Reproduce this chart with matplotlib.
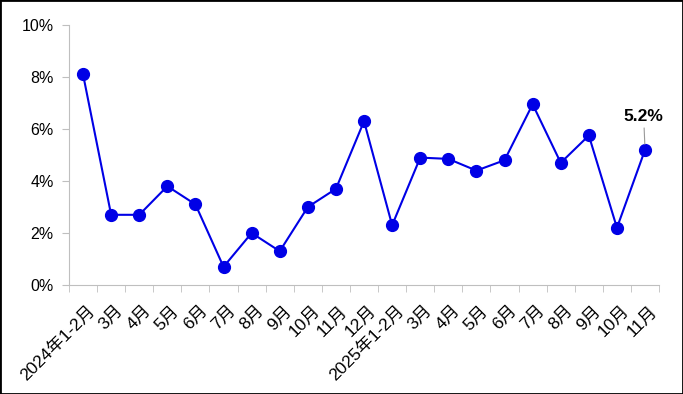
import matplotlib.pyplot as plt
from matplotlib.patches import Rectangle
from matplotlib.transforms import ScaledTranslation

plt.rcParams['font.family'] = ['Liberation Sans', 'Noto Sans CJK SC', 'DejaVu Sans']

labels = ['2024年1-2月', '3月', '4月', '5月', '6月', '7月', '8月', '9月', '10月', '11月', '12月',
          '2025年1-2月', '3月', '4月', '5月', '6月', '7月', '8月', '9月', '10月', '11月']
values = [8.1, 2.7, 2.7, 3.8, 3.1, 0.7, 2.0, 1.3, 3.0, 3.7, 6.3,
          2.3, 4.9, 4.85, 4.4, 4.8, 6.95, 4.7, 5.75, 2.2, 5.2]

blue = '#0000e6'
grey = '#bfbfbf'

fig = plt.figure(figsize=(6.83, 3.94), dpi=100)
ax = fig.add_axes([0.101, 0.2766, 0.864, 0.66])

x = list(range(len(values)))
ax.plot(x, values, color=blue, lw=1.5, marker='o', ms=8.5, zorder=3)

ax.set_xlim(-0.5, len(values) - 0.5)
ax.set_ylim(0, 10)
ax.set_yticks([0, 2, 4, 6, 8, 10])
ax.set_yticklabels([f'{v}%' for v in [0, 2, 4, 6, 8, 10]], fontsize=11.5)

ax.set_xticks(x)
ax.set_xticklabels(labels, rotation=45, ha='right', rotation_mode='anchor', fontsize=12.5)
ax.tick_params(axis='x', length=0, pad=13)
# nudge labels a little right, like the original
shift = ScaledTranslation(4 / 100, 0, fig.dpi_scale_trans)
for t in ax.get_xticklabels():
    t.set_transform(t.get_transform() + shift)
ax.set_xticks([i - 0.5 for i in range(len(values) + 1)], minor=True)
ax.tick_params(axis='x', which='minor', length=5, color=grey)
ax.tick_params(axis='y', length=5, color=grey, pad=6)

for s in ['top', 'right']:
    ax.spines[s].set_visible(False)
for s in ['left', 'bottom']:
    ax.spines[s].set_color(grey)

ax.annotate('5.2%', xy=(x[-1], values[-1]), xytext=(x[-1] - 0.05, 6.2),
            ha='center', va='bottom', fontsize=12.5, fontweight='bold',
            arrowprops=dict(arrowstyle='-', color='#999999', lw=0.8, shrinkA=1, shrinkB=4))

fig.patches.append(Rectangle((0, 0), 1, 1, transform=fig.transFigure, fill=False,
                             edgecolor='black', lw=2))

fig.savefig('out.png', dpi=100)
